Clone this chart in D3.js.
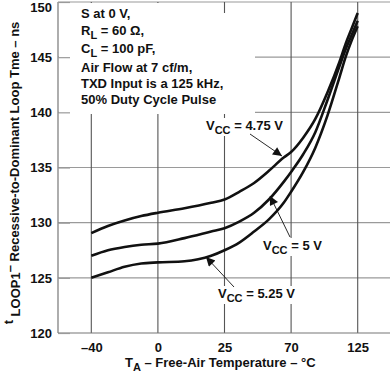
<!DOCTYPE html>
<html><head><meta charset="utf-8">
<script src="https://cdn.jsdelivr.net/npm/d3@7"></script>
<style>
html,body{margin:0;padding:0;background:#fff;}
svg{display:block;font-family:"Liberation Sans",Arial,sans-serif;font-weight:bold;}
</style></head>
<body><svg id="c" width="390" height="373"></svg>
<script>
const temps   = [-40,-30,-20,-10,0,10,20,25,35,45,55,65,70,80,90,100,110,115,120,125];
const vcc475  = [129.05,129.7,130.2,130.6,130.9,131.3,131.8,132.1,132.8,133.6,134.7,135.9,136.4,137.7,139.4,141.8,144.6,146.2,147.6,149.0];
const vcc5    = [127.0,127.5,127.8,128.0,128.1,128.6,129.2,129.5,130.1,130.9,132.1,133.7,134.6,136.2,138.2,141.1,144.2,145.7,147.0,148.3];
const vcc525  = [125.0,125.5,126.0,126.3,126.4,126.5,127.0,127.5,128.2,129.2,130.3,131.8,132.8,134.6,136.8,139.7,143.2,145.0,146.5,147.8];
const xTicks  = [-40,0,25,70,125];
const yTicks  = [120,125,130,135,140,145,150];
const noteLines = [
  [["S at 0 V,",0]],
  [["R",0],["L",1],[" = 60 Ω,",0]],
  [["C",0],["L",1],[" = 100 pF,",0]],
  [["Air Flow at 7 cf/m,",0]],
  [["TXD Input is a 125 kHz,",0]],
  [["50% Duty Cycle Pulse",0]]
];
const seriesLabels = [
  {v:"4.75 V", data: vcc475},
  {v:"5 V", data: vcc5},
  {v:"5.25 V", data: vcc525}
];

const svg = d3.select("#c");
const L = 58, R = 391, T = 2, B = 333;
const pt = d3.scalePoint().domain(xTicks).range([L, R]).padding(0.5);
const x = d3.scaleLinear().domain(xTicks).range(xTicks.map(d => pt(d)));
const y = d3.scaleLinear().domain([120,150]).range([B, T]);

// gridlines
const g = svg.append("g");
g.selectAll("line.h").data(yTicks.filter(d => d > 120)).join("line")
  .attr("x1", L).attr("x2", 390).attr("y1", d => y(d)).attr("y2", d => y(d))
  .attr("stroke", "#9a9a9a").attr("stroke-width", 1.2);
g.selectAll("line.v").data(xTicks).join("line")
  .attr("x1", d => x(d)).attr("x2", d => x(d)).attr("y1", T).attr("y2", B)
  .attr("stroke", "#555").attr("stroke-width", 1.1);

// white area behind notes
svg.append("rect").attr("x", L + 1).attr("y", T + 1).attr("width", 157).attr("height", 111).attr("fill", "#fff");
svg.append("rect").attr("x", L + 1).attr("y", 13).attr("width", 196).attr("height", 101).attr("fill", "#fff");

// axes frame
svg.append("line").attr("x1", L).attr("x2", L).attr("y1", T).attr("y2", B).attr("stroke", "#777").attr("stroke-width", 1.2);
svg.append("line").attr("x1", L).attr("x2", 390).attr("y1", B).attr("y2", B).attr("stroke", "#777").attr("stroke-width", 1.2);

const yAxis = svg.append("g").attr("transform", `translate(${L},0)`)
  .call(d3.axisLeft(y).tickValues(yTicks).tickSizeInner(-12).tickSizeOuter(0).tickPadding(6));
yAxis.select(".domain").remove();
yAxis.selectAll(".tick line").attr("stroke", "#9a9a9a").attr("stroke-width", 1.2);
yAxis.selectAll("text").attr("font-size", 13).attr("font-weight", "bold").attr("fill", "#111")
  .attr("font-family", "Liberation Sans, Arial, sans-serif");
yAxis.selectAll(".tick").filter(d => d === 150).select("text").attr("dy", "0.72em");

const xAxis = svg.append("g").attr("transform", `translate(0,${B})`)
  .call(d3.axisBottom(x).tickValues(xTicks).tickSize(0).tickPadding(10).tickFormat(d => d < 0 ? "–" + Math.abs(d) : d));
xAxis.select(".domain").remove();
xAxis.selectAll("text").attr("font-size", 13).attr("font-weight", "bold").attr("fill", "#111")
  .attr("font-family", "Liberation Sans, Arial, sans-serif");

// notes
const notes = svg.append("g").attr("font-size", 13).attr("fill", "#111");
const baselines = [18, 35, 53, 72, 88, 104];
noteLines.forEach((ln, i) => {
  const t = notes.append("text").attr("x", 81).attr("y", baselines[i]);
  let prev = 0;
  ln.forEach(([s, sub]) => {
    const ts = t.append("tspan").text(s);
    const shift = sub ? 4 : 0;
    if (shift !== prev) ts.attr("dy", shift - prev);
    if (sub) ts.attr("font-size", 11);
    prev = shift;
  });
});

// curves
const line = d3.line().x((d, i) => x(temps[i])).y(d => y(d)).curve(d3.curveMonotoneX);
svg.selectAll("path.curve").data(seriesLabels).join("path")
  .attr("d", d => line(d.data)).attr("fill", "none").attr("stroke", "#111").attr("stroke-width", 2.6);

// arrow marker
svg.append("defs").append("marker").attr("id", "ah").attr("viewBox", "0 0 10 10")
  .attr("refX", 10).attr("refY", 5).attr("markerWidth", 12).attr("markerHeight", 9)
  .attr("markerUnits", "userSpaceOnUse").attr("orient", "auto")
  .append("path").attr("d", "M0,0 L10,5 L0,10 Z").attr("fill", "#111");

// series labels with arrows
const labelPos = [
  {x: 206, y: 130, ax1: 250, ay1: 134, ax2: 282, ay2: 156},
  {x: 263, y: 250, ax1: 290, ay1: 237, ax2: 270, ay2: 196},
  {x: 218, y: 298, ax1: 234, ay1: 287, ax2: 206, ay2: 257}
];
seriesLabels.forEach((s, i) => {
  const p = labelPos[i];
  const grp = svg.append("g");
  const bg = grp.append("rect").attr("fill", "#fff");
  const t = grp.append("text").attr("x", p.x).attr("y", p.y).attr("font-size", 13).attr("fill", "#111");
  t.append("tspan").text("V");
  t.append("tspan").attr("dy", 4).attr("font-size", 11).text("CC");
  t.append("tspan").attr("dy", -4).text(" = " + s.v);
  const bb = t.node().getBBox();
  bg.attr("x", bb.x - 2).attr("y", bb.y).attr("width", bb.width + 4).attr("height", bb.height);
  svg.append("line").attr("x1", p.ax1).attr("y1", p.ay1).attr("x2", p.ax2).attr("y2", p.ay2)
    .attr("stroke", "#111").attr("stroke-width", 0.9).attr("marker-end", "url(#ah)");
});

// axis titles
const xt = svg.append("text").attr("x", 125).attr("y", 367).attr("text-anchor", "start")
  .attr("font-size", 13).attr("fill", "#111");
xt.append("tspan").text("T");
xt.append("tspan").attr("dy", 4).attr("font-size", 11).text("A");
xt.append("tspan").attr("dy", -4).text(" – Free-Air Temperature – °C");

const yt = svg.append("text").attr("transform", "translate(19,173) rotate(-90)").attr("text-anchor", "middle")
  .attr("font-size", 13).attr("fill", "#111");
yt.append("tspan").attr("dy", -6).text("t");
yt.append("tspan").attr("dy", 7).text(" LOOP1");
yt.append("tspan").attr("dy", -6).text("–");
yt.append("tspan").attr("dy", 5).text(" Recessive-to-Dominant Loop Tme – ns");
</script></body></html>
